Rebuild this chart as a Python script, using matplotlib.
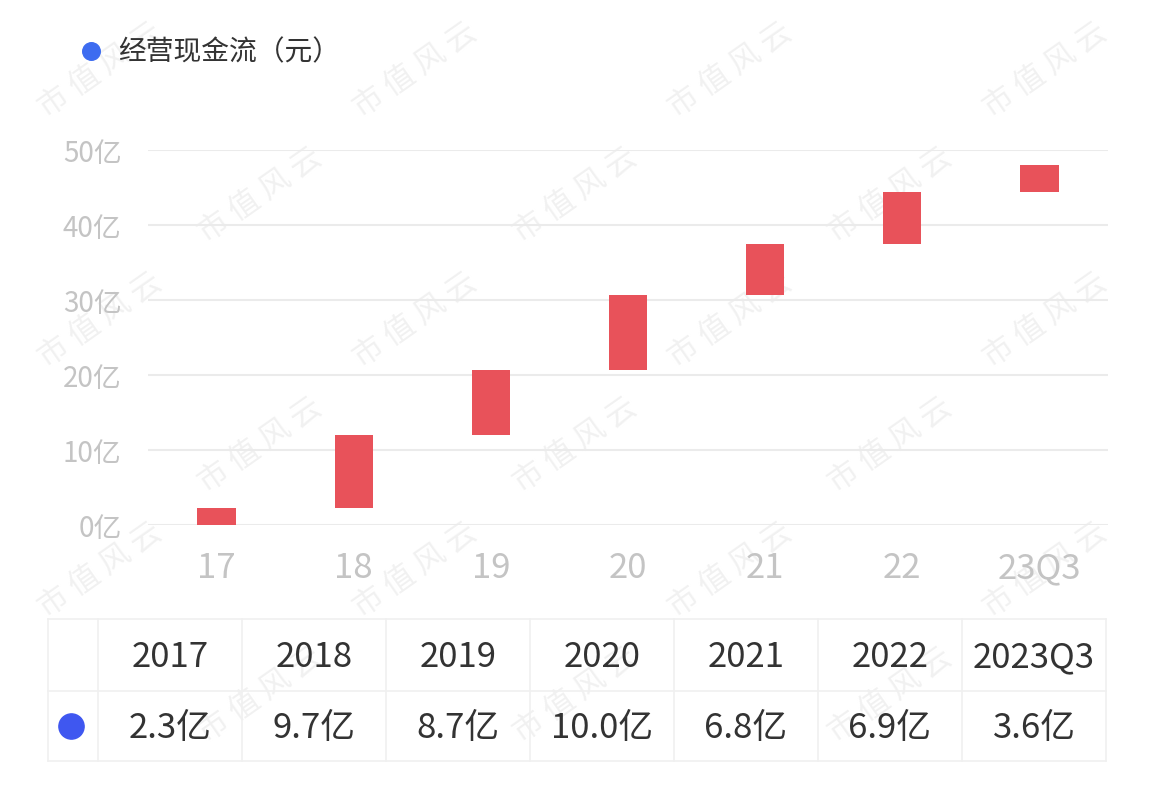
import matplotlib.pyplot as plt
import numpy as np

plt.rcParams['font.family'] = ['Noto Sans CJK SC', 'DejaVu Sans']

# 数据
x_labels = ['17', '18', '19', '20', '21', '22', '23Q3']
years = ['2017', '2018', '2019', '2020', '2021', '2022', '2023Q3']
values = [2.3, 9.7, 8.7, 10.0, 6.8, 6.9, 3.6]   # 亿元
y_ticks = [0, 10, 20, 30, 40, 50]

W, H = 1154, 803
fig = plt.figure(figsize=(W / 100, H / 100), dpi=100)

# 叠加层（像素坐标）：图例、表格、水印 —— 放在主图下层
ov = fig.add_axes([0, 0, 1, 1])
ov.set_xlim(0, W)
ov.set_ylim(H, 0)
ov.axis('off')
ov.set_zorder(0)

# 瀑布图主体
ax = fig.add_axes([148 / W, 1 - 526 / H, 960 / W, 375 / H])
ax.set_zorder(1)
ax.patch.set_alpha(0)
bottoms = np.concatenate([[0], np.cumsum(values)[:-1]])
xs = np.arange(len(values))
ax.bar(xs, values, bottom=bottoms, width=0.28, color='#e8525a', zorder=3)

ax.set_xlim(-0.5, len(values) - 0.5)
ax.set_ylim(0, 50)
ax.set_yticks(y_ticks)
ax.set_yticklabels([f'{v}亿' for v in y_ticks], fontsize=20, color='#c4c4c4')
ax.set_xticks(xs)
ax.set_xticklabels(x_labels, fontsize=25, color='#c4c4c4')
ax.tick_params(axis='y', length=0, pad=19)
ax.tick_params(axis='x', length=0, pad=18)
for s in ax.spines.values():
    s.set_visible(False)
ax.grid(axis='y', color='#ebebeb', linewidth=1.5, zorder=0)

# 水印
for r in range(0, 7):
    for c in range(0, 4):
        wx = c * 315 + (r % 2) * 160 + 100
        wy = r * 125 + 70
        if 80 < wx < W - 80 and 50 < wy < H - 50:
            ov.text(wx, wy, '市 值 风 云', fontsize=22, color='#f1f1f1',
                    rotation=35, ha='center', va='center', zorder=1)

# 图例
ov.scatter([91], [52], s=160, color='#3d6cf0', zorder=5)
ov.text(118, 52, '经营现金流（元）', fontsize=20, color='#333333', va='center', ha='left', zorder=5)

# 表格
tbl_left, first_w, col_w = 48, 50, 144
tbl_top, row_mid, tbl_bot = 620, 692, 762
tbl_right = tbl_left + first_w + col_w * len(years)
line_c = '#f0f0f0'
for yy in [tbl_top, row_mid, tbl_bot]:
    ov.plot([tbl_left, tbl_right], [yy, yy], color=line_c, lw=1.2, zorder=2)
xb = [tbl_left, tbl_left + first_w] + [tbl_left + first_w + col_w * (i + 1) for i in range(len(years))]
for xx in xb:
    ov.plot([xx, xx], [tbl_top, tbl_bot], color=line_c, lw=1.2, zorder=2)

ov.scatter([tbl_left + first_w / 2 - 2], [(row_mid + tbl_bot) / 2], s=330, color='#3f57f0', zorder=5)
for i, (yr, v) in enumerate(zip(years, values)):
    cx = tbl_left + first_w + col_w * (i + 0.5)
    ov.text(cx, (tbl_top + row_mid) / 2 + 2, yr, fontsize=25, color='#333333',
            ha='center', va='center', zorder=5, fontweight='medium')
    ov.text(cx, (row_mid + tbl_bot) / 2 + 2, f'{v:.1f}亿', fontsize=25, color='#333333',
            ha='center', va='center', zorder=5, fontweight='medium')

fig.savefig('out.png', dpi=100, facecolor='white')
